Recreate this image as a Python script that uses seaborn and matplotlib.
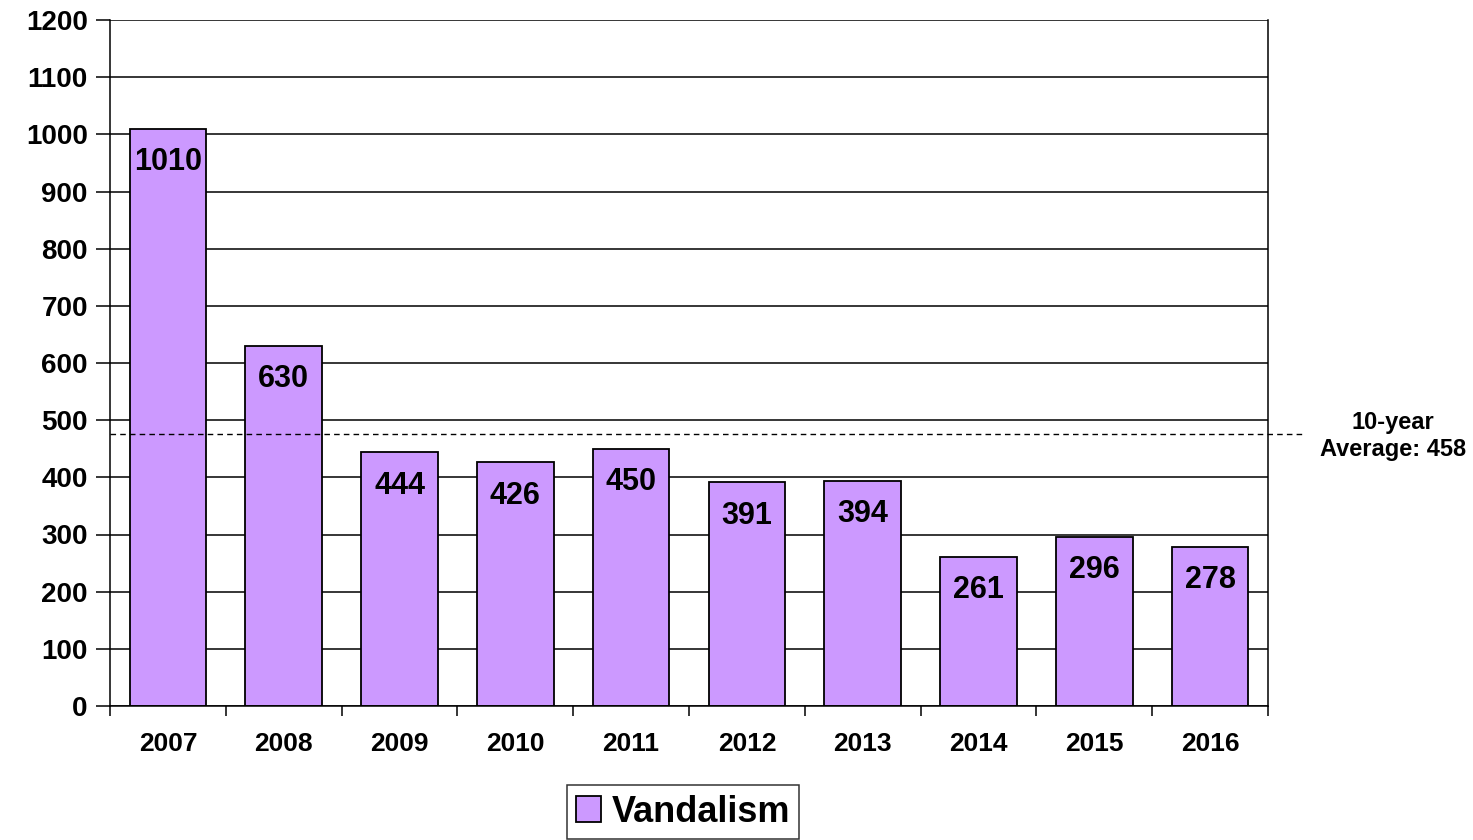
import matplotlib
matplotlib.use("Agg")
import matplotlib.pyplot as plt
import seaborn as sns
import pandas as pd
import numpy as np

years = ["2007", "2008", "2009", "2010", "2011", "2012", "2013", "2014", "2015", "2016"]
vandalism = [1010, 630, 444, 426, 450, 391, 394, 261, 296, 278]
avg_line_value = 475
avg_label = "10-year\nAverage: 458"
y_ticks = list(range(0, 1201, 100))

sns.set_theme(style="white")
plt.rcParams["font.family"] = ["Liberation Sans", "DejaVu Sans"]
plt.rcParams["font.weight"] = "bold"
plt.rcParams["text.color"] = "black"
plt.rcParams["xtick.color"] = "black"
plt.rcParams["ytick.color"] = "black"
plt.rcParams["xtick.labelcolor"] = "black"
plt.rcParams["ytick.labelcolor"] = "black"

df = pd.DataFrame({"Year": years, "Count": vandalism})

fig = plt.figure(figsize=(14.73, 8.4), dpi=100)
ax = fig.add_axes([110 / 1473, 134 / 840, 1158 / 1473, 686 / 840])

ax.yaxis.grid(True, color="black", linewidth=1.1)
ax.set_axisbelow(True)

sns.barplot(data=df, x="Year", y="Count", color="#CC99FF", edgecolor="black",
            linewidth=1.3, width=0.66, saturation=1, label="Vandalism", ax=ax)

ax.set_ylim(0, 1200)
ax.set_xlim(-0.5, 9.5)
ax.set_yticks(y_ticks)
ax.set_yticklabels([str(t) for t in y_ticks], fontsize=20, fontweight="bold", color="black")
ax.set_xticks(range(len(years)))
ax.set_xticklabels(years, fontsize=19, fontweight="bold", color="black")
ax.set_xticks(np.arange(-0.5, 10, 1), minor=True)
ax.tick_params(axis="x", which="major", bottom=False, length=0, pad=19)
ax.tick_params(axis="x", which="minor", bottom=True, length=7, width=1.1,
               color="black", direction="out")
ax.tick_params(axis="y", which="major", left=True, length=10, width=1.1,
               color="black", direction="out", pad=6)
ax.set_xlabel("")
ax.set_ylabel("")

for s in ["left", "right", "bottom"]:
    ax.spines[s].set_visible(True)
    ax.spines[s].set_color("black")
    ax.spines[s].set_linewidth(1.1)
ax.spines["top"].set_visible(False)

for i, v in enumerate(vandalism):
    ax.annotate(str(v), xy=(i, v), xytext=(0, -24), textcoords="offset points",
                ha="center", va="center", fontsize=22, fontweight="bold", color="black")

ax.plot([-0.5, 9.8], [avg_line_value, avg_line_value], linestyle=(0, (4, 3)),
        color="black", linewidth=1.0, clip_on=False, zorder=5)

fig.text(1393 / 1473, 1 - 436 / 840, avg_label, ha="center", va="center",
         fontsize=17, fontweight="bold", linespacing=1.2, color="black")

leg = ax.legend(loc="center", bbox_to_anchor=(683 / 1473, 1 - 812 / 840),
                bbox_transform=fig.transFigure, frameon=True, fancybox=False,
                prop={"size": 26, "weight": "bold"}, handlelength=0.7,
                handleheight=0.7, handletextpad=0.3, borderpad=0.25,
                borderaxespad=0)
leg.get_frame().set_edgecolor("black")
leg.get_frame().set_linewidth(1.1)
for t in leg.get_texts():
    t.set_color("black")

fig.savefig("out.png", dpi=100, facecolor="white")
